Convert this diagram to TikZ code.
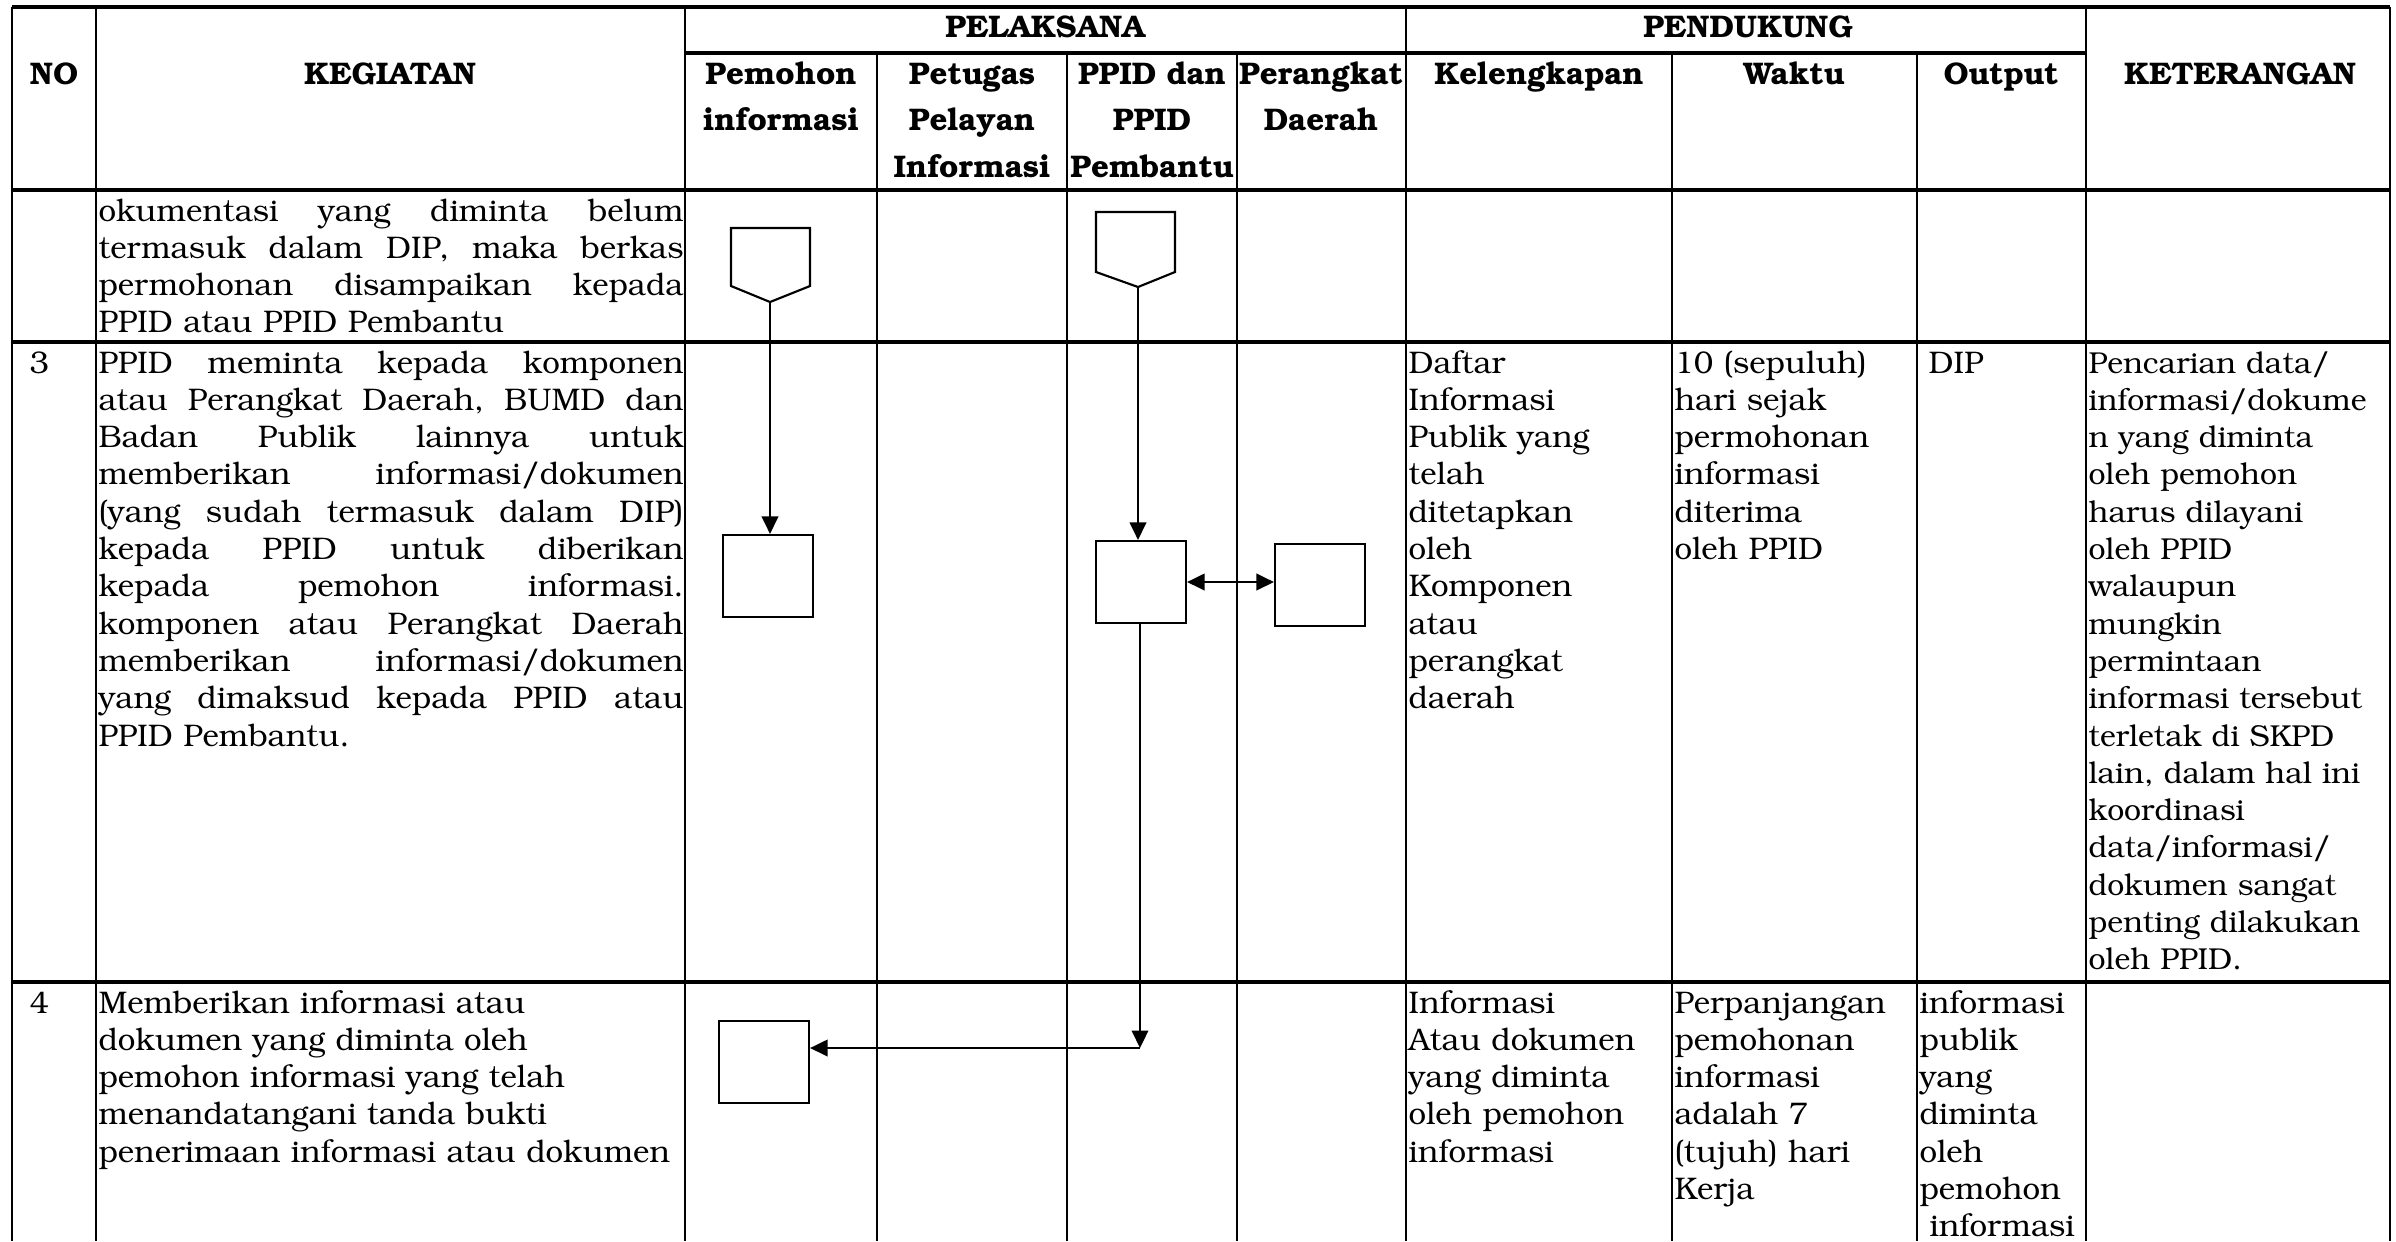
\documentclass[tikz,border=0pt]{standalone}
\usepackage[T1]{fontenc}
\usepackage{bookman}
\usetikzlibrary{arrows.meta}
\newcommand\jl[1]{\noindent\hbox to\linewidth{\frenchspacing\spaceskip=0.25em plus 1fill\relax #1}}
\tikzset{
  hline/.style={line width=1.35pt},
  vline/.style={line width=1pt},
  txt/.style={inner sep=0pt, anchor=base west, align=left, font=\fontsize{12.5}{14.92}\selectfont},
  hd/.style={inner sep=0pt, anchor=base, align=center, font=\fontsize{12.5}{18.7}\selectfont\bfseries},
  box/.style={draw, line width=0.85pt, minimum width=36pt, minimum height=32.8pt, inner sep=0pt},
  conn/.style={draw, line width=0.85pt},
  arr/.style={line width=0.85pt, -{Triangle[length=7pt,width=6.6pt]}},
  darr/.style={line width=0.85pt, {Triangle[length=7pt,width=6.6pt]}-{Triangle[length=7pt,width=6.6pt]}}
}
\begin{document}
\begin{tikzpicture}[x=0.4pt,y=-0.4pt]
\useasboundingbox (0,0) rectangle (2396,1241);
\fill[white] (0,0) rectangle (2396,1241);
% ---- grid ----
\draw[hline] (12,7) -- (2390,7);
\draw[hline] (685,53) -- (2086,53);
\draw[hline] (12,190) -- (2390,190);
\draw[hline] (12,342) -- (2390,342);
\draw[hline] (12,982) -- (2390,982);
\foreach \x in {12,96,685,1406,2086,2390} \draw[vline] (\x,7) -- (\x,1241);
\foreach \x in {877,1067,1237,1672,1917} \draw[vline] (\x,53) -- (\x,1241);
% ---- headers ----
\node[hd] (hNO) at (54,84) {NO};
\node[hd] (hKEG) at (390,84) {KEGIATAN};
\node[hd] (hPEL) at (1045,37) {PELAKSANA};
\node[hd] (hPEN) at (1748,37) {PENDUKUNG};
\node[hd, text width=76pt] (hPem) at (781,84) {Pemohon\\informasi};
\node[hd, text width=76pt] (hPet) at (972,84) {Petugas\\Pelayan\\Informasi};
\node[hd, text width=68pt] (hPPID) at (1152,84) {PPID dan\\PPID\\Pembantu};
\node[hd, text width=68pt] (hPer) at (1321,84) {Perangkat\\Daerah};
\node[hd] (hKel) at (1539,84) {Kelengkapan};
\node[hd] (hWak) at (1794,84) {Waktu};
\node[hd] (hOut) at (2001,84) {Output};
\node[hd] (hKet) at (2240,84) {KETERANGAN};
% ---- row 1 (continuation) ----
\node[txt, text width=234pt] (k1) at (98,221) {%
\jl{okumentasi yang diminta belum}\\
\jl{termasuk dalam DIP, maka berkas}\\
\jl{permohonan disampaikan kepada}\\
PPID atau PPID Pembantu};
% ---- row 3 ----
\node[txt] (n3) at (29,373) {3};
\node[txt, text width=234pt] (k3) at (98,373) {%
\jl{PPID meminta kepada komponen}\\
\jl{atau Perangkat Daerah, BUMD dan}\\
\jl{Badan Publik lainnya untuk}\\
\jl{memberikan informasi/dokumen}\\
\jl{(yang sudah termasuk dalam DIP)}\\
\jl{kepada PPID untuk diberikan}\\
\jl{kepada pemohon informasi.}\\
\jl{komponen atau Perangkat Daerah}\\
\jl{memberikan informasi/dokumen}\\
\jl{yang dimaksud kepada PPID atau}\\
PPID Pembantu.};
\node[txt, text width=104pt] (kel3) at (1408,373) {Daftar\\Informasi\\Publik yang\\telah\\ditetapkan\\oleh\\Komponen\\atau\\perangkat\\daerah};
\node[txt, text width=96pt] (wak3) at (1674,373) {10 (sepuluh)\\hari sejak\\permohonan\\informasi\\diterima\\oleh PPID};
\node[txt] (out3) at (1928,373) {DIP};
\node[txt, text width=121pt, font=\fontsize{12.1}{14.92}\selectfont] (ket3) at (2088,373) {Pencarian data/\\informasi/dokume\\n yang diminta\\oleh pemohon\\harus dilayani\\oleh PPID\\walaupun\\mungkin\\permintaan\\informasi tersebut\\terletak di SKPD\\lain, dalam hal ini\\koordinasi\\data/informasi/\\dokumen sangat\\penting dilakukan\\oleh PPID.};
% ---- row 4 ----
\node[txt] (n4) at (29,1013) {4};
\node[txt, text width=234pt] (k4) at (98,1013) {Memberikan informasi atau\\dokumen yang diminta oleh\\pemohon informasi yang telah\\menandatangani tanda bukti\\penerimaan informasi atau dokumen};
\node[txt, text width=104pt] (kel4) at (1408,1013) {Informasi\\Atau dokumen\\yang diminta\\oleh pemohon\\informasi};
\node[txt, text width=96pt] (wak4) at (1674,1013) {Perpanjangan\\pemohonan\\informasi\\adalah 7\\(tujuh) hari\\Kerja};
\node[txt, text width=67pt] (out4) at (1919,1013) {informasi\\publik\\yang\\diminta\\oleh\\pemohon\\\hspace*{4pt}informasi};
% ---- flow shapes ----
\draw[conn] (731,228) -- (810,228) -- (810,286) -- (770,302) -- (731,286) -- cycle;
\coordinate (p1) at (770,302);
\draw[conn] (1096,212) -- (1175,212) -- (1175,272) -- (1138,287) -- (1096,272) -- cycle;
\coordinate (p2) at (1138,287);
\node[box] (b1) at (768,576) {};
\node[box] (b2) at (1141,582) {};
\node[box] (b3) at (1320,585) {};
\node[box] (b4) at (764,1062) {};
\coordinate (j) at (1140,1048);
\draw[arr] (p1) -- (p1 |- b1.north);
\draw[arr] (p2) -- (p2 |- b2.north);
\draw[darr] (b2.east) -- (b2.east -| b3.west);
\draw[arr] (b2.south -| j) -- (j);
\draw[arr] (j) -- (j -| b4.east);
\end{tikzpicture}
\end{document}
